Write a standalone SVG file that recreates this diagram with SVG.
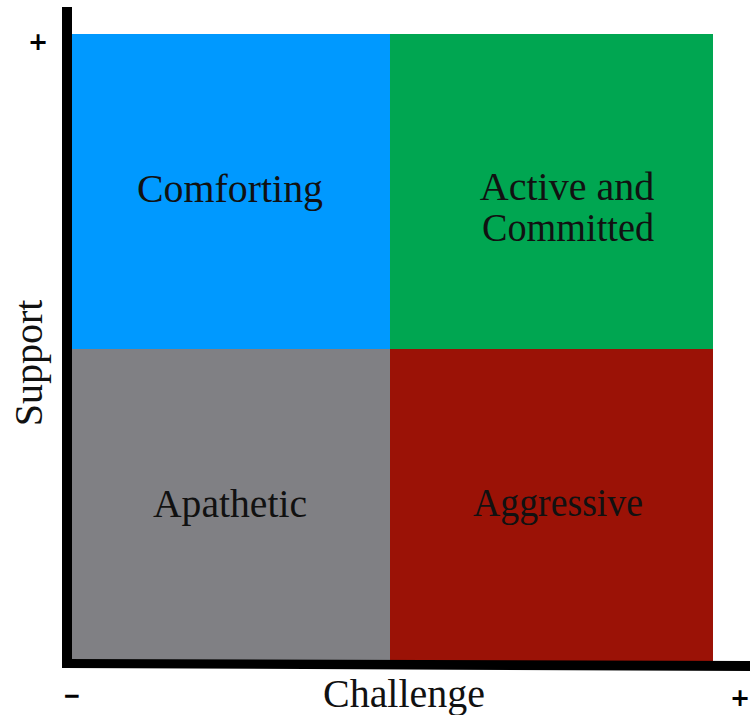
<svg xmlns="http://www.w3.org/2000/svg" width="750" height="715" viewBox="0 0 750 715">
<style>
.lbl{font-family:"Liberation Serif","Times New Roman",serif;font-size:40px;fill:#111;text-anchor:middle}
.sign{font-family:"DejaVu Sans","Liberation Sans",sans-serif;font-size:24px;font-weight:bold;fill:#000;text-anchor:middle}
.minus{font-family:"Liberation Sans",Arial,sans-serif;font-size:27px;font-weight:bold;fill:#000;text-anchor:middle}
</style>
<rect width="750" height="715" fill="#fff"/>
<g id="comforting"><rect x="72" y="34" width="318" height="315" fill="#0099FF"/><text class="lbl" x="230" y="202" textLength="186" lengthAdjust="spacingAndGlyphs">Comforting</text></g>
<g id="active"><rect x="390" y="34" width="323" height="315" fill="#00A651"/><text class="lbl" x="567" y="200">Active and</text><text class="lbl" x="568" y="241" textLength="172" lengthAdjust="spacingAndGlyphs">Committed</text></g>
<g id="apathetic"><rect x="72" y="349" width="318" height="311" fill="#808084"/><text class="lbl" x="230" y="517" textLength="154" lengthAdjust="spacingAndGlyphs">Apathetic</text></g>
<g id="aggressive"><rect x="390" y="349" width="323" height="312" fill="#9B1206"/><text class="lbl" x="558" y="516" textLength="170" lengthAdjust="spacingAndGlyphs">Aggressive</text></g>
<g id="axes">
<rect x="62" y="7" width="10" height="661" fill="#000"/>
<polygon points="62,659 750,661 750,671 62,668" fill="#000"/>
<text class="lbl" x="404" y="707" textLength="162" lengthAdjust="spacingAndGlyphs">Challenge</text>
<text class="lbl" transform="translate(42,363) rotate(-90)">Support</text>
<text class="sign" x="38" y="50">+</text>
<text class="minus" x="72" y="705">−</text>
<text class="sign" x="740" y="706">+</text>
</g>
</svg>
